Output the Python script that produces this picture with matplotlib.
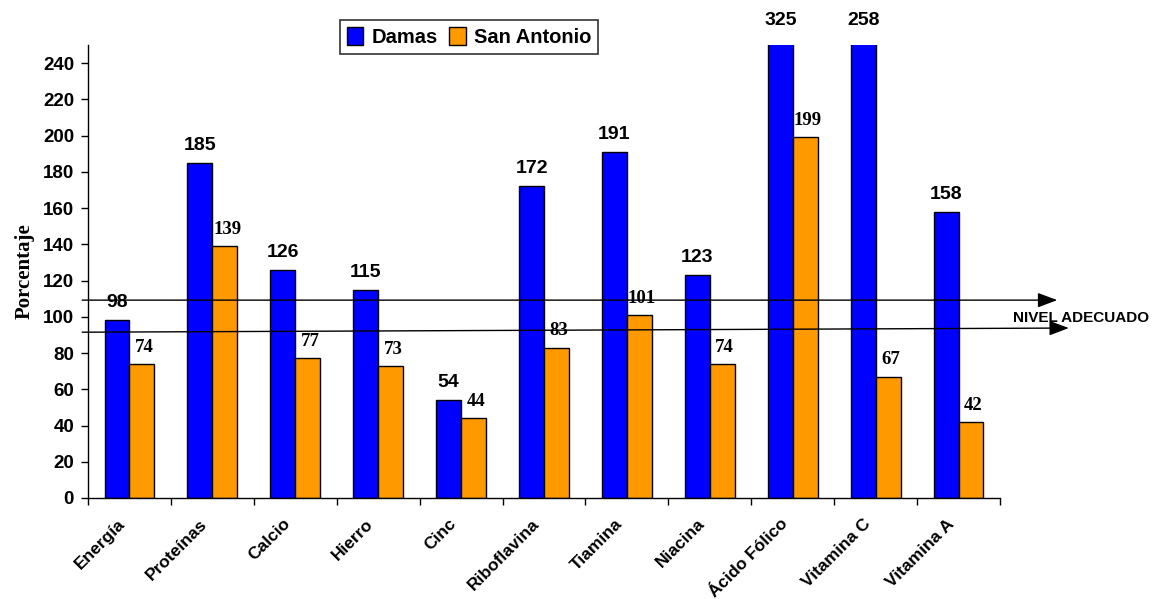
import matplotlib
matplotlib.use("Agg")
import matplotlib.pyplot as plt
import numpy as np

categories = ["Energía", "Proteínas", "Calcio", "Hierro", "Cinc", "Riboflavina",
              "Tiamina", "Niacina", "Ácido Fólico", "Vitamina C", "Vitamina A"]
damas = [98, 185, 126, 115, 54, 172, 191, 123, 325, 258, 158]
san_antonio = [74, 139, 77, 73, 44, 83, 101, 74, 199, 67, 42]
yticks = [0, 20, 40, 60, 80, 100, 120, 140, 160, 180, 200, 220, 240]

SANS = "Liberation Sans"
SERIF = "Liberation Serif"

fig = plt.figure(figsize=(11.64, 5.99), dpi=100)
ax = fig.add_axes([88/1164, 1-498/599, (1000-88)/1164, (498-45)/599])

x = np.arange(len(categories))
w = 0.3
ymax = 250
ax.bar(x - w/2, damas, w, color="#0000FF", edgecolor="black", linewidth=1.0, label="Damas")
ax.bar(x + w/2, san_antonio, w, color="#FF9900", edgecolor="black", linewidth=1.0, label="San Antonio")

ax.set_xlim(-0.5, len(categories) - 0.5)
ax.set_ylim(0, ymax)

for xi, v in zip(x, damas):
    y = v + 5 if v <= ymax else ymax + 9
    ax.text(xi - w/2, y, str(v), ha="center", va="bottom",
            fontsize=14, fontweight="bold", family=SANS, clip_on=False)
for xi, v in zip(x, san_antonio):
    ax.text(xi + w/2 + 0.03, v + 4.5, str(v), ha="center", va="bottom",
            fontsize=13.5, fontweight="bold", family=SERIF, clip_on=False)

ax.spines["top"].set_visible(False)
ax.spines["right"].set_visible(False)
ax.spines["left"].set_linewidth(1.0)
ax.spines["bottom"].set_linewidth(1.0)

ax.set_yticks(yticks)
ax.set_yticklabels([str(t) for t in yticks], fontsize=13.5, fontweight="bold", family=SANS)
ax.tick_params(axis="y", direction="out", length=5, width=1, pad=5)

ax.set_xticks(np.arange(-0.5, len(categories) + 0.5, 1.0))
ax.set_xticklabels([])
ax.tick_params(axis="x", direction="out", length=5, width=1)
for xi, c in zip(x, categories):
    ax.text(xi - 0.15, -10, c, rotation=45, ha="right", va="top", rotation_mode="anchor",
            fontsize=12.5, fontweight="bold", family=SANS, transform=ax.transData, clip_on=False)

ax.set_ylabel("Porcentaje", fontsize=15, fontweight="bold", family=SERIF, labelpad=6)

# Nivel adecuado arrows
aprops = dict(arrowstyle="-|>,head_length=1.2,head_width=0.45", color="black", lw=1.0,
              shrinkA=0, shrinkB=0)
ax.annotate("", xy=(11.19, 109.2), xytext=(-0.57, 109.2), arrowprops=aprops,
            annotation_clip=False)
ax.annotate("", xy=(11.33, 93.8), xytext=(-0.57, 91.5), arrowprops=aprops,
            annotation_clip=False)
fig.text(1081/1164, 1-318/599, "NIVEL ADECUADO", ha="center", va="center",
         fontsize=11, fontweight="bold", family=SANS)

leg = ax.legend(loc="center", bbox_to_anchor=(469/1164, 1-37/599), bbox_transform=fig.transFigure,
                ncol=2, frameon=True, fancybox=False, edgecolor="black",
                prop=dict(family=SANS, weight="bold", size=14.5),
                handlelength=0.8, handleheight=1.0, handletextpad=0.4, columnspacing=0.6,
                borderpad=0.35, borderaxespad=0)
leg.get_frame().set_linewidth(1.2)

fig.savefig("out.png", dpi=100)
